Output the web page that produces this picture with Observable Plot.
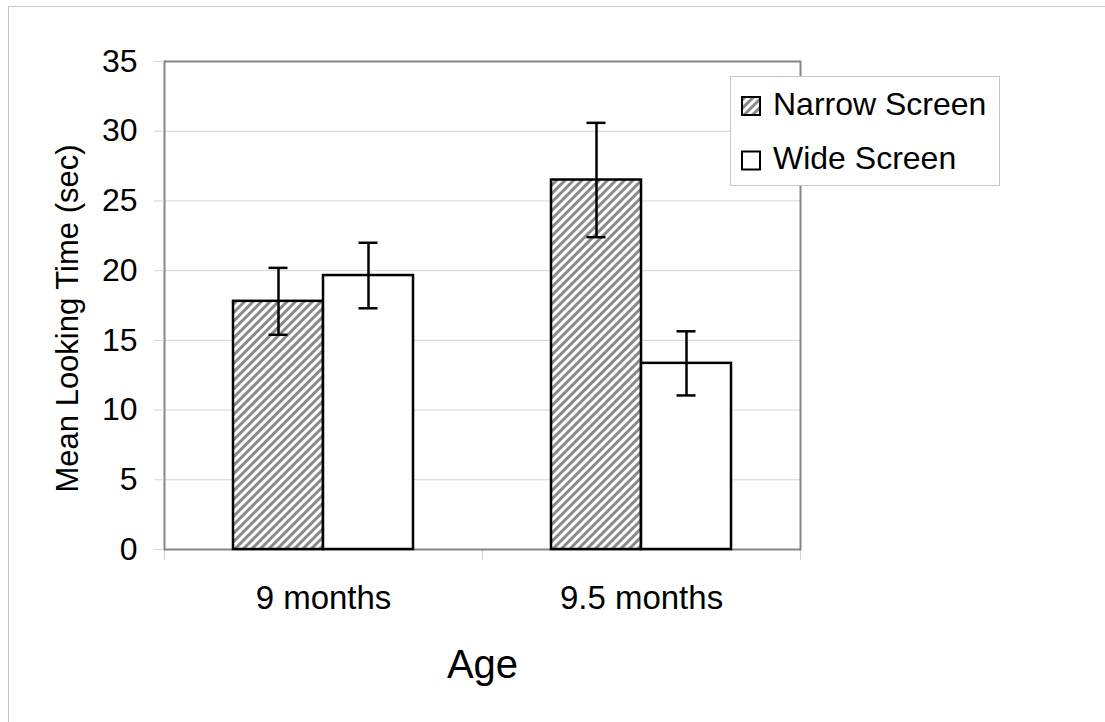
<!DOCTYPE html>
<html>
<head>
<meta charset="utf-8">
<script src="https://cdn.jsdelivr.net/npm/d3@7"></script>
<script src="https://cdn.jsdelivr.net/npm/@observablehq/plot@0.6"></script>
<style>
html, body { margin: 0; padding: 0; background: #fff; }
#wrap { position: relative; width: 1105px; height: 722px; overflow: hidden; font-family: "Liberation Sans", Arial, sans-serif; }
#border { position: absolute; left: 8px; top: 6px; width: 1300px; height: 900px; border-left: 1px solid #c6c6c6; border-top: 1px solid #c6c6c6; }
#chart { position: absolute; left: 0; top: 0; }
#legend { position: absolute; left: 730px; top: 76px; }
</style>
</head>
<body>
<svg width="0" height="0" style="position:absolute">
  <defs>
    <pattern id="hatch" patternUnits="userSpaceOnUse" width="6" height="6" patternTransform="rotate(45)">
      <rect width="6" height="6" fill="white"></rect>
      <rect x="0" y="0" width="3" height="6" fill="#8a8a8a"></rect>
    </pattern>
  </defs>
</svg>
<div id="wrap">
  <div id="border"></div>
  <div id="chart"></div>
  <div id="legend"></div>
</div>
<script>
const ages = ["9 months", "9.5 months"];
const seriesNames = ["Narrow Screen", "Wide Screen"];
const narrowMean = [17.8, 26.5];
const narrowErr = [2.4, 4.1];
const wideMean = [19.65, 13.35];
const wideErr = [2.35, 2.3];
const yTicks = [0, 5, 10, 15, 20, 25, 30, 35];
const yTitle = "Mean Looking Time (sec)";
const xTitle = "Age";

const rows = [];
ages.forEach((age, i) => {
  rows.push({age, series: seriesNames[0], mean: narrowMean[i], err: narrowErr[i]});
  rows.push({age, series: seriesNames[1], mean: wideMean[i], err: wideErr[i]});
});
const narrow = rows.filter(d => d.series === seriesNames[0]);
const wide = rows.filter(d => d.series === seriesNames[1]);

const frameColor = "#858585";
const gridColor = "#d4d4d4";
const sw = 2.5;

const chart = Plot.plot({
  width: 1105,
  height: 722,
  marginTop: 61,
  marginLeft: 163,
  marginRight: 305,
  marginBottom: 173,
  style: {fontFamily: "Liberation Sans, Arial, sans-serif", color: "black", background: "transparent"},
  fx: {domain: ages, padding: 0, label: null},
  x: {domain: seriesNames, paddingInner: 0, paddingOuter: 0.75, axis: null},
  y: {domain: [0, 35]},
  marks: [
    Plot.gridY(yTicks, {stroke: gridColor, strokeOpacity: 1}),
    Plot.frame({anchor: "left", stroke: gridColor, insetTop: 488, insetBottom: -10}),
    Plot.frame({anchor: "right", stroke: gridColor, insetTop: 488, insetBottom: -10}),
    Plot.ruleY([0, 35], {stroke: frameColor, strokeWidth: 2}),
    Plot.frame({anchor: "left", fx: () => ages[0], stroke: frameColor, strokeWidth: 2}),
    Plot.frame({anchor: "right", fx: () => ages[ages.length - 1], stroke: frameColor, strokeWidth: 2}),
    Plot.barY(narrow, {fx: "age", x: "series", y: "mean", fill: "url(#hatch)", stroke: "black", strokeWidth: sw}),
    Plot.barY(wide, {fx: "age", x: "series", y: "mean", fill: "white", stroke: "black", strokeWidth: sw}),
    Plot.ruleX(rows, {fx: "age", x: "series", y1: d => d.mean - d.err, y2: d => d.mean + d.err, stroke: "black", strokeWidth: sw}),
    Plot.tickY(rows, {fx: "age", x: "series", y: d => d.mean + d.err, insetLeft: 35.5, insetRight: 35.5, stroke: "black", strokeWidth: sw}),
    Plot.tickY(rows, {fx: "age", x: "series", y: d => d.mean - d.err, insetLeft: 35.5, insetRight: 35.5, stroke: "black", strokeWidth: sw}),
    Plot.axisY(yTicks, {tickSize: 10, tickPadding: 17, stroke: gridColor, fill: "black", fontSize: 32, label: null}),
    Plot.text([yTitle], {fx: () => ages[0], frameAnchor: "left", textAnchor: "middle", rotate: -90, dx: -96, dy: 13, fontSize: 31, fill: "black"}),
    Plot.axisFx({anchor: "bottom", tickSize: 0, tickPadding: 36, fontSize: 33, fill: "black", label: null}),
    Plot.axisFx({anchor: "bottom", tickSize: 0, tickFormat: () => "", fontSize: 40, fill: "black", label: xTitle, labelAnchor: "center", labelOffset: 128})
  ]
});
document.getElementById("chart").appendChild(chart);

// Legend
const lg = d3.select("#legend").append("svg").attr("width", 271).attr("height", 111);
lg.append("rect").attr("x", 0.5).attr("y", 0.5).attr("width", 269).attr("height", 109)
  .attr("fill", "white").attr("stroke", "#c6c6c6");
const fills = ["url(#hatch)", "white"];
seriesNames.forEach((name, i) => {
  const top = 21 + i * 54.5;
  lg.append("rect").attr("x", 12).attr("y", top).attr("width", 18).attr("height", 18)
    .attr("fill", fills[i]).attr("stroke", "black").attr("stroke-width", 2);
  lg.append("text").attr("x", 43).attr("y", top + 17.5)
    .attr("font-family", "Liberation Sans, Arial, sans-serif").attr("font-size", 32)
    .attr("fill", "black").text(name);
});
</script>
</body>
</html>
